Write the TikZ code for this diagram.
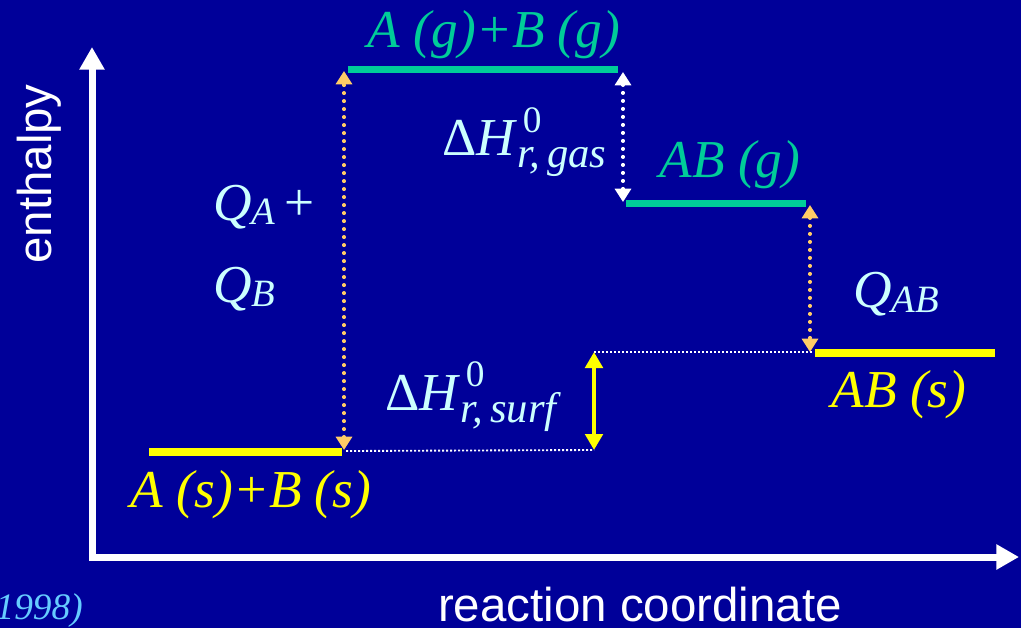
\documentclass[tikz,border=0pt]{standalone}
\usepackage{fontspec}
\setmainfont{Liberation Serif}
\setsansfont{Liberation Sans}
\usepackage{xcolor}
\definecolor{slideBlue}{HTML}{000099}
\definecolor{gasGreen}{HTML}{00CC99}
\definecolor{solidYellow}{HTML}{FFFF00}
\definecolor{heatOrange}{HTML}{FFCC66}
\definecolor{paleCyan}{HTML}{CCFFFF}
\definecolor{citeBlue}{HTML}{66CCFF}
\usepackage{tikz}
\usetikzlibrary{
    arrows.meta,
    positioning,
    calc
}
% enthalpy of reaction with stacked 0 and subscript
\newcommand{\dHr}[3]{{\upshape Δ}\textit{H}\rlap{\kern4pt\raisebox{#2}{\fontsize{28}{28}\selectfont\upshape 0}}\raisebox{#3}{\fontsize{32}{32}\selectfont\itshape r,\,#1}}
% heat with subscript
\newcommand{\heatQ}[2]{\textit{Q}\raisebox{#2}{\fontsize{29}{29}\selectfont\itshape #1}}
\tikzset{
    % Base style for the level texts
    level label/.style={
        font=\fontsize{40}{48}\selectfont\itshape,
        inner sep=0pt,
        anchor=base,
    },
    % Axis titles
    axis label/.style={
        font=\fontsize{35.6}{40}\selectfont\sffamily,
        text=white,
        inner sep=0pt,
    },
    % Energy levels
    gas level/.style={
        draw=gasGreen,
        line width=5.25pt,
    },
    solid level/.style={
        draw=solidYellow,
        line width=6pt,
    },
    % Axes with big heads
    axis/.style={
        draw=white,
        line width=5.25pt,
        line join=miter,
        {Triangle[length=17pt, width=18pt]}-{Triangle[length=17pt, width=18pt]},
    },
    % Dotted arrows for heats
    heat arrow/.style={
        draw=heatOrange,
        line width=2.4pt,
        line cap=round,
        dash pattern=on 0.6pt off 5.4pt,
        {Triangle[length=10pt, width=12pt]}-{Triangle[length=10pt, width=12pt]},
    },
    gas arrow/.style={
        heat arrow,
        draw=white,
    },
    % Solid double arrow
    surf arrow/.style={
        draw=solidYellow,
        line width=3pt,
        {Triangle[length=12pt, width=13pt]}-{Triangle[length=12pt, width=13pt]},
    },
    % Thin guide lines
    guide line/.style={
        draw=white,
        line width=1.4pt,
        dash pattern=on 1.5pt off 1.5pt,
    },
}

\begin{document}
\begin{tikzpicture}[x=0.75pt, y=-0.75pt]
    \fill [slideBlue] (0,0) rectangle (1021,628);
    \useasboundingbox (0,0) rectangle (1021,628);
    \clip (0,0) rectangle (1021,628);

    % axes
    \coordinate (origin) at (92,557);
    \coordinate (yend) at (92,47);
    \coordinate (xend) at (1019,557);
    \draw [axis] (yend) -- (origin) -- (xend);
    \node (enthalpy) [axis label, rotate=90] at (39,174) {enthalpy};
    \node (coord) [axis label, anchor=base] at (640,621) {reaction coordinate};
    \node (cite) [inner sep=0pt, anchor=base east, text=citeBlue,
        font=\fontsize{28}{30}\selectfont\itshape] at (83,619) {(1998)};

    % levels
    \coordinate (reactants west) at (149,451.5);
    \coordinate (reactants east) at (342,451.5);
    \coordinate (atoms west) at (348,69.5);
    \coordinate (atoms east) at (618,69.5);
    \coordinate (molgas west) at (626,203);
    \coordinate (molgas east) at (806,203);
    \coordinate (molsolid west) at (815,352.5);
    \coordinate (molsolid east) at (995,352.5);
    \draw [solid level] (reactants west) -- (reactants east);
    \draw [gas level] (atoms west) -- (atoms east);
    \draw [gas level] (molgas west) -- (molgas east);
    \draw [solid level] (molsolid west) -- (molsolid east);

    \node (reactants) [level label, text=solidYellow] at (251,507) {A (s)+B (s)};
    \node (atoms) [level label, text=gasGreen] at (494,47) {A (g)+B (g)};
    \node (molgas) [level label, text=gasGreen] at (730,177) {AB (g)};
    \node (molsolid) [level label, text=solidYellow] at (899,407) {AB (s)};

    % heats
    \coordinate (qab bottom) at (344,450);
    \coordinate (qab top) at (344,71);
    \coordinate (gas top) at (623,72);
    \coordinate (gas bottom) at (623,202);
    \coordinate (q bottom) at (810,352);
    \coordinate (q top) at (810,205);
    \coordinate (surf top) at (594,352);
    \coordinate (surf bottom) at (594,450);
    \draw [heat arrow] (qab bottom) -- (qab top);
    \draw [gas arrow] (gas top) -- (gas bottom);
    \draw [heat arrow] (q top) -- (q bottom);
    \draw [guide line] (346,451) -- (surf bottom);
    \draw [guide line] (surf top) -- (812,352);
    \draw [surf arrow] (surf top) -- (surf bottom);

    \node (qa) [level label, anchor=base west, text=paleCyan] at (213,220) {\heatQ{A}{-3pt}\,\upshape+};
    \node (qb) [level label, anchor=base west, text=paleCyan] at (213,302) {\heatQ{B}{-3pt}};
    \node (qab) [level label, anchor=base west, text=paleCyan] at (853,307) {\heatQ{AB}{-4pt}};
    \node (dh gas) [level label, anchor=base west, text=paleCyan, font=\fontsize{40}{48}\selectfont] at (442,155) {\dHr{gas}{17pt}{-9.5pt}};
    \node (dh surf) [level label, anchor=base west, text=paleCyan, font=\fontsize{40}{48}\selectfont] at (385,410) {\dHr{surf}{18pt}{-9pt}};
\end{tikzpicture}
\end{document}
